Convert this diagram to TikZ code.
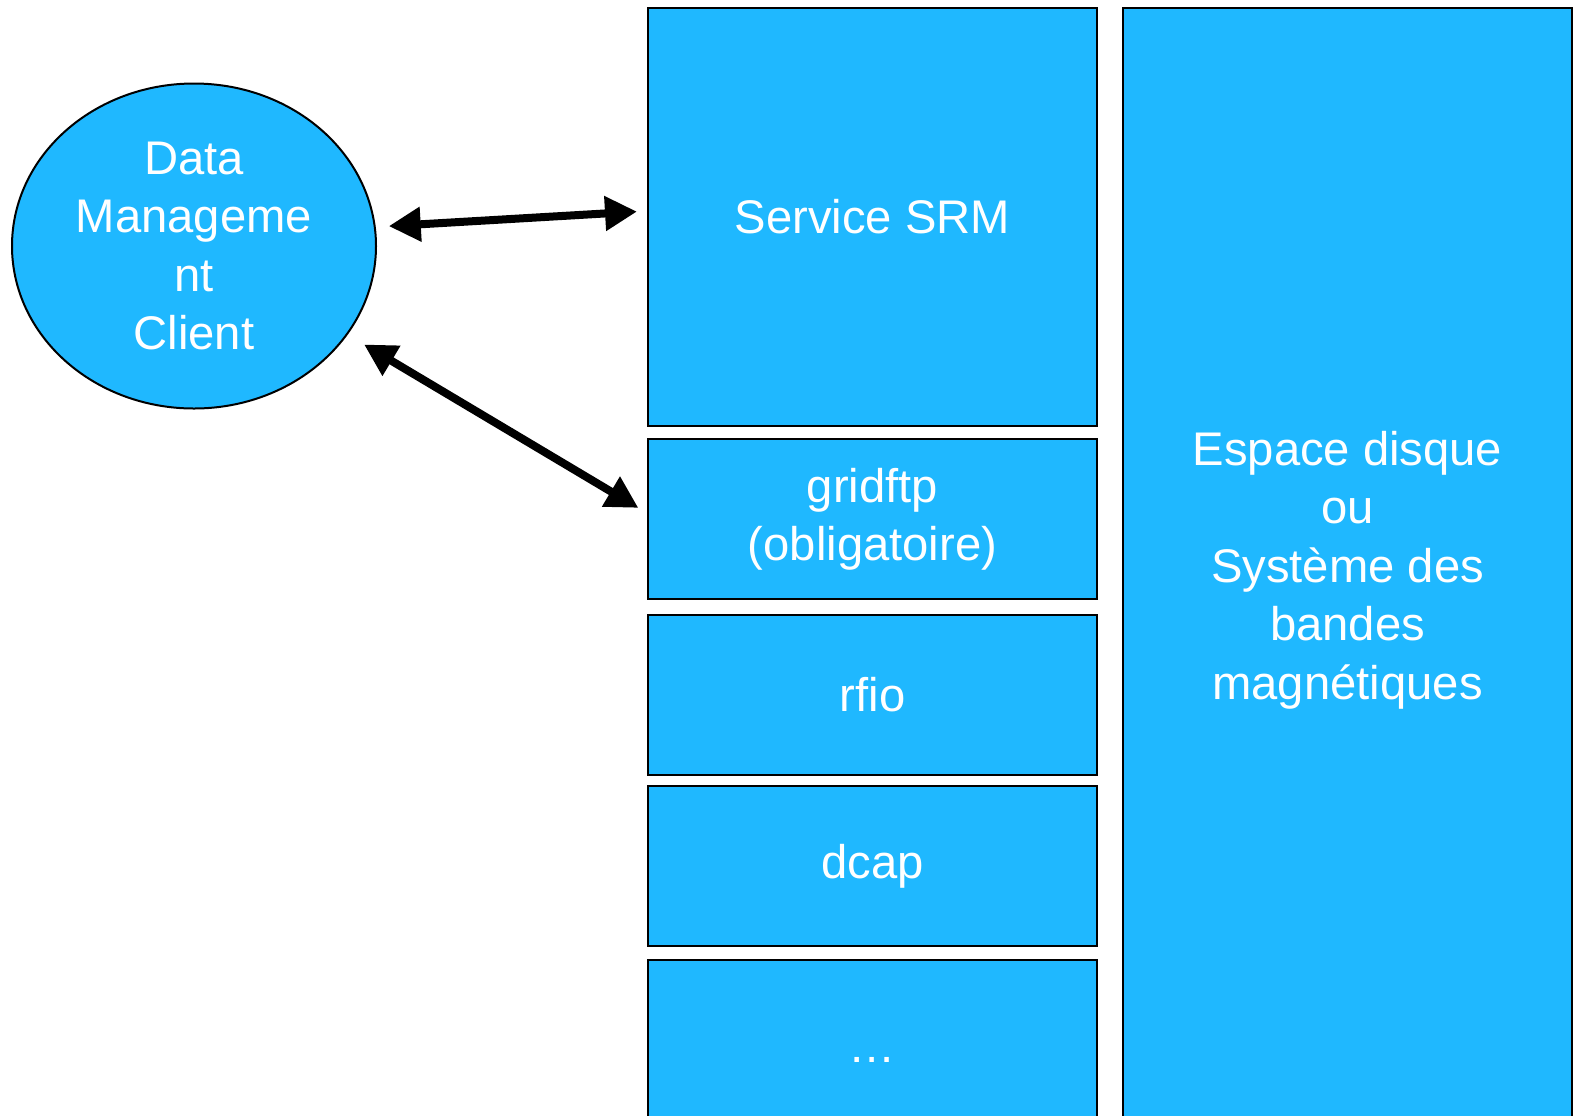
\documentclass[tikz,border=0pt]{standalone}
\usepackage{fontspec}
\setmainfont{Liberation Sans}
\usepackage{tikz, xcolor}
\usetikzlibrary{
calc, positioning,
arrows.meta, shapes,
shapes.geometric}

\definecolor{srmblue}{HTML}{1FB8FF}

\tikzset{
blockbox/.style={rectangle, text centered, draw=black, line width=1pt,
  fill=srmblue, text=white, inner sep=0pt, minimum width=224.5pt},
bigarrow/.style={{Triangle[length=16pt, width=16.5pt]}-{Triangle[length=16pt, width=16.5pt]},
  line width=4pt, color=black}
}

\begin{document}
\begin{tikzpicture}[x=0.5pt, y=-0.5pt, font=\fontsize{23.6}{29.2}\selectfont]

\useasboundingbox (0,0) rectangle (1577,1115);
\clip (0,0) rectangle (1577,1115);

\node[ellipse, draw=black, line width=1pt, fill=srmblue, text=white,
minimum width=182pt, minimum height=162.5pt, inner sep=0pt, align=center]
(client) at (194, 246) 
{Data\\Manageme\\nt\\Client};

\node[blockbox, minimum height=209pt]
(srm) at (872.5, 217) 
{Service SRM};

\node[blockbox, minimum height=80pt, align=center]
(gridftp) at (872.5, 519) 
{gridftp\\(obligatoire)};

\node[blockbox, minimum height=80pt]
(rfio) at (872.5, 695) 
{rfio};

\node[blockbox, minimum height=80pt]
(dcap) at (872.5, 866) 
{dcap};

\node[blockbox, minimum height=100pt]
(others) at (872.5, 1060) 
{\dots};

\node[blockbox, minimum height=562pt, align=center]
(storage) at (1347.5, 570) 
{Espace disque\\ou\\Système des\\bandes\\magnétiques};

\draw[bigarrow, shorten <=6.5pt, shorten >=5pt] (client.6) -- ([yshift=3pt]srm.west);
\draw[bigarrow, shorten <=9.5pt, shorten >=5pt] (client.-30) -- ([yshift=3pt]gridftp.west);

\end{tikzpicture}
\end{document}
